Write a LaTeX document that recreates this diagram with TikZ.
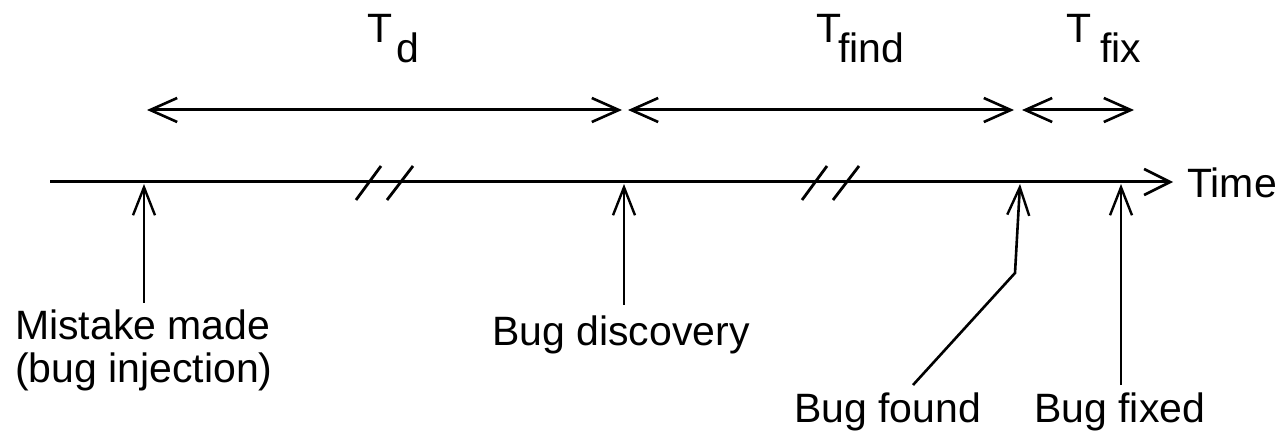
\documentclass[tikz,border=0pt]{standalone}
\usepackage{fontspec}
\setmainfont{Liberation Sans}
\usetikzlibrary{arrows.meta}
\begin{document}
\begin{tikzpicture}[x=1pt,y=-1pt,
  txt/.style={font=\fontsize{41}{43}\selectfont, inner sep=0pt},
  axisline/.style={line width=3pt, -{Straight Barb[length=26pt,width=26pt,line width=2.6pt]}},
  span/.style={line width=3pt, {Straight Barb[length=27pt,width=24pt,line width=2.6pt]}-{Straight Barb[length=27pt,width=24pt,line width=2.6pt]}},
  tick/.style={line width=2.6pt, -{Straight Barb[length=28pt,width=22pt,line width=2.4pt]}},
  brk/.style={line width=2.8pt}
]
\useasboundingbox (0,0) rectangle (1284,435);

% timeline
\coordinate (tstart) at (50,182);
\coordinate (tend) at (1173,182);
\draw[axisline] (tstart) -- (tend);
\node[txt, anchor=west] (time) at (1187,183) {Time};

% break marks
\coordinate (b1a) at (356,200); \coordinate (b1b) at (381,166);
\coordinate (b2a) at (387,200); \coordinate (b2b) at (413,166);
\coordinate (b3a) at (802,200); \coordinate (b3b) at (827,166);
\coordinate (b4a) at (833,200); \coordinate (b4b) at (859,166);
\draw[brk] (b1a) -- (b1b);
\draw[brk] (b2a) -- (b2b);
\draw[brk] (b3a) -- (b3b);
\draw[brk] (b4a) -- (b4b);

% event points on timeline
\coordinate (pmist) at (144,184);
\coordinate (pdisc) at (624,184);
\coordinate (pfound) at (1020,184);
\coordinate (pfix) at (1121,184);

% labels
\node[txt, anchor=north west, align=left] (mist) at (15,310) {Mistake made\\(bug injection)};
\node[txt, anchor=base west] (disc) at (492,345) {Bug discovery};
\node[txt, anchor=base west] (found) at (794,422) {Bug found};
\node[txt, anchor=base west] (fixed) at (1034,422) {Bug fixed};

% ticks
\coordinate (mistend) at (144,303);
\coordinate (discend) at (624,305);
\coordinate (foundbend) at (1015,273);
\coordinate (foundend) at (913,385);
\coordinate (fixend) at (1121,385);
\draw[tick] (mistend) -- (pmist);
\draw[tick] (discend) -- (pdisc);
\draw[tick] (foundend) -- (foundbend) -- (pfound);
\draw[tick] (fixend) -- (pfix);

% spans
\coordinate (s1a) at (147,110); \coordinate (s1b) at (622,110);
\coordinate (s2a) at (628,110); \coordinate (s2b) at (1014,110);
\coordinate (s3a) at (1022,110); \coordinate (s3b) at (1134,110);
\draw[span] (s1a) -- (s1b);
\draw[span] (s2a) -- (s2b);
\draw[span] (s3a) -- (s3b);

% span labels
\node[txt, anchor=base west] (td) at (367,43) {T\kern4pt\raisebox{-20pt}{d}};
\node[txt, anchor=base west] (tfind) at (816,43) {T\kern-3pt\raisebox{-20pt}{find}};
\node[txt, anchor=base west] (tfix) at (1066,43) {T\kern9pt\raisebox{-20pt}{fix}};
\end{tikzpicture}
\end{document}
